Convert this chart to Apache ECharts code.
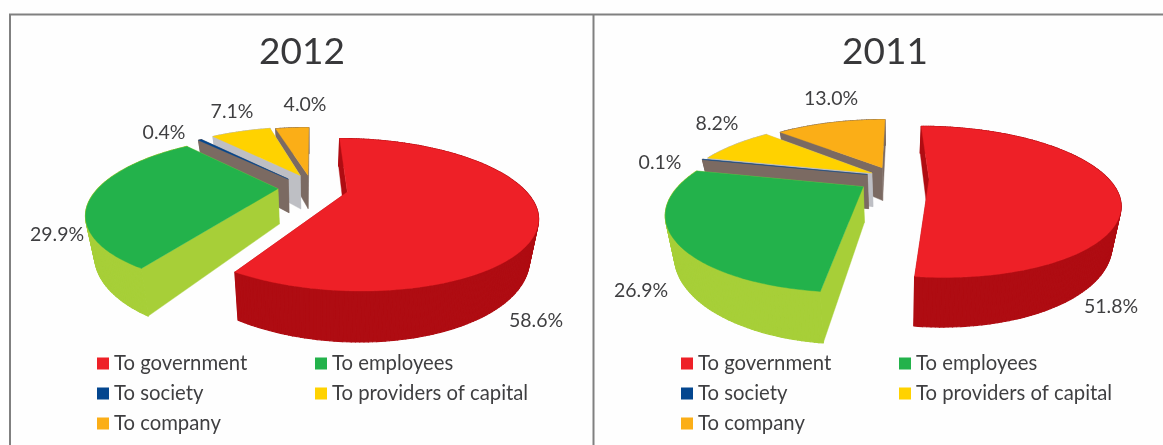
<!DOCTYPE html>
<html>
<head>
<meta charset="utf-8">
<style>html,body{margin:0;padding:0;background:#fefefe}#chart{width:1163px;height:445px}</style>
<script src="https://cdn.jsdelivr.net/npm/echarts@6/dist/echarts.min.js"></script>
</head>
<body>
<div id="chart"></div>
<script>
// Value distribution, percent of total, clockwise from twelve o'clock
const categories = ['To government', 'To employees', 'To society', 'To providers of capital', 'To company'];
const values2012 = [58.6, 29.9, 0.4, 7.1, 4.0];
const values2011 = [51.8, 26.9, 0.1, 8.2, 13.0];
const years = ['2012', '2011'];

const topColors  = ['#ee2027', '#23b24b', '#03468f', '#ffd200', '#fbae17'];
const wallColors = ['#af0c12', '#a7cf38', '#7b6a62', '#bebfc4', '#7b6a62'];

// Perspective camera for each pie: vanishing x, ground line y, focal scales, distance, extrusion
const camera2012 = { vx: 312, y0: 187.5, f: 600, A: 229, D: 3.35, H: 118, k: 0.04, burst: 0.19 };
const camera2011 = { vx: 895, y0: 177.5, f: 600, A: 229, D: 3.35, H: 116, k: 0.04, burst: 0.19 };

// Small screen-space shifts and radius scales that separate the slices, one per category
const sliceShift2012 = [[2, 1], [0, 0], [-2.5, 1], [3, -1], [0, 0]];
const sliceShift2011 = [[0, 1], [-3, 1.5], [5, 0], [6, 1.5], [0, 1.5]];
const sliceRadius2012 = [0.985, 1, 1, 1, 1];
const sliceRadius2011 = [1, 1, 1.04, 1.05, 1];

// Label centres, one per category
const labelSpots2012 = [[536, 321], [57, 235], [164, 133], [232, 112], [305, 105]];
const labelSpots2011 = [[1111, 307], [641, 291], [660, 163], [717, 124], [831, 99]];

const FONT = 'Lato, "Open Sans", sans-serif';
const INK = '#3f3f41';
const paintOrder = [4, 3, 2, 1, 0]; // far slices first

function project(cam, X, Y, lowered, shift) {
  const w = cam.D - Y;
  let px = cam.vx + cam.f * X / w;
  let py = cam.y0 + cam.A * Y / w;
  if (lowered) {
    px = cam.vx + (px - cam.vx) * (1 - cam.k);
    py += cam.H / w;
  }
  return [px + shift[0], py + shift[1]];
}

function sliceRenderer(cam, idx, spots, shift, radius) {
  return function (params, api) {
    const share = api.value(0);
    const before = api.value(1);
    const a0 = before * 3.6 * Math.PI / 180;
    const a1 = (before + share) * 3.6 * Math.PI / 180;
    const mid = (a0 + a1) / 2;
    const ex = cam.burst * Math.sin(mid);
    const ey = -cam.burst * Math.cos(mid);

    const steps = Math.max(2, Math.ceil((a1 - a0) / (Math.PI / 180)));
    const rimTop = [], rimLow = [];
    for (let i = 0; i <= steps; i++) {
      const a = a0 + (a1 - a0) * i / steps;
      const X = ex + radius * Math.sin(a), Y = ey - radius * Math.cos(a);
      rimTop.push(project(cam, X, Y, false, shift));
      rimLow.push(project(cam, X, Y, true, shift));
    }
    const apexTop = project(cam, ex, ey, false, shift);
    const apexLow = project(cam, ex, ey, true, shift);
    const n = rimTop.length - 1;

    const poly = (points, fill, lineWidth) => ({
      type: 'polygon',
      shape: { points },
      style: { fill, stroke: fill, lineWidth, lineJoin: 'round' }
    });
    const wall = wallColors[idx];
    const children = [poly([rimTop[n], apexTop, apexLow, rimLow[n]], wall, 0.4)];
    // the curved side, one facet per step; the stroke closes the joints between facets
    for (let i = 0; i < n; i++) {
      children.push(poly([rimTop[i], rimTop[i + 1], rimLow[i + 1], rimLow[i]], wall, 1.2));
    }
    children.push(poly([rimTop[0], apexTop, apexLow, rimLow[0]], wall, 0.4));
    children.push(poly([apexTop].concat(rimTop), topColors[idx], 0.4));
    children.push({
      type: 'text',
      style: {
        text: share.toFixed(1) + '%',
        x: spots[idx][0],
        y: spots[idx][1],
        align: 'center',
        verticalAlign: 'middle',
        fill: INK,
        font: '19.5px ' + FONT
      }
    });
    return { type: 'group', children };
  };
}

function pieSeries(values, cam, spots, shifts, radii) {
  let running = 0;
  const starts = values.map((v) => { const s = running; running += v; return s; });
  return paintOrder.map((idx) => ({
    type: 'custom',
    name: categories[idx],
    coordinateSystem: 'none',
    silent: true,
    clip: false,
    itemStyle: { color: topColors[idx] },
    renderItem: sliceRenderer(cam, idx, spots, shifts[idx], radii[idx]),
    data: [[values[idx], starts[idx]]]
  }));
}

function legendColumn(left, names) {
  return {
    left, top: 350,
    orient: 'vertical',
    icon: 'rect',
    itemWidth: 12,
    itemHeight: 12,
    itemGap: 3,
    padding: 0,
    selectedMode: false,
    data: names,
    textStyle: { color: INK, fontFamily: FONT, fontSize: 20.3, lineHeight: 24, padding: [3, 0, 0, 0] }
  };
}

const titleOf = (text, left) => ({
  text, left, top: 34, padding: 0, textAlign: 'center',
  textStyle: { color: '#38383a', fontFamily: FONT, fontSize: 37, fontWeight: 'normal' }
});

const frameLine = (x1, y1, x2, y2) => ({
  type: 'line',
  shape: { x1, y1, x2, y2 },
  style: { stroke: '#808080', lineWidth: 2 }
});

const chart = echarts.init(document.getElementById('chart'));
chart.setOption({
  animation: false,
  backgroundColor: '#fefefe',
  tooltip: { show: false },
  title: [titleOf(years[0], 302), titleOf(years[1], 885)],
  legend: [
    legendColumn(97, [categories[0], categories[2], categories[4]]),
    legendColumn(315, [categories[1], categories[3]]),
    legendColumn(681, [categories[0], categories[2], categories[4]]),
    legendColumn(899, [categories[1], categories[3]])
  ],
  graphic: [
    frameLine(9, 14.5, 1163, 14.5),
    frameLine(10, 14, 10, 445),
    frameLine(593.5, 14, 593.5, 445)
  ],
  series: pieSeries(values2012, camera2012, labelSpots2012, sliceShift2012, sliceRadius2012)
    .concat(pieSeries(values2011, camera2011, labelSpots2011, sliceShift2011, sliceRadius2011))
});
</script>
</body>
</html>
